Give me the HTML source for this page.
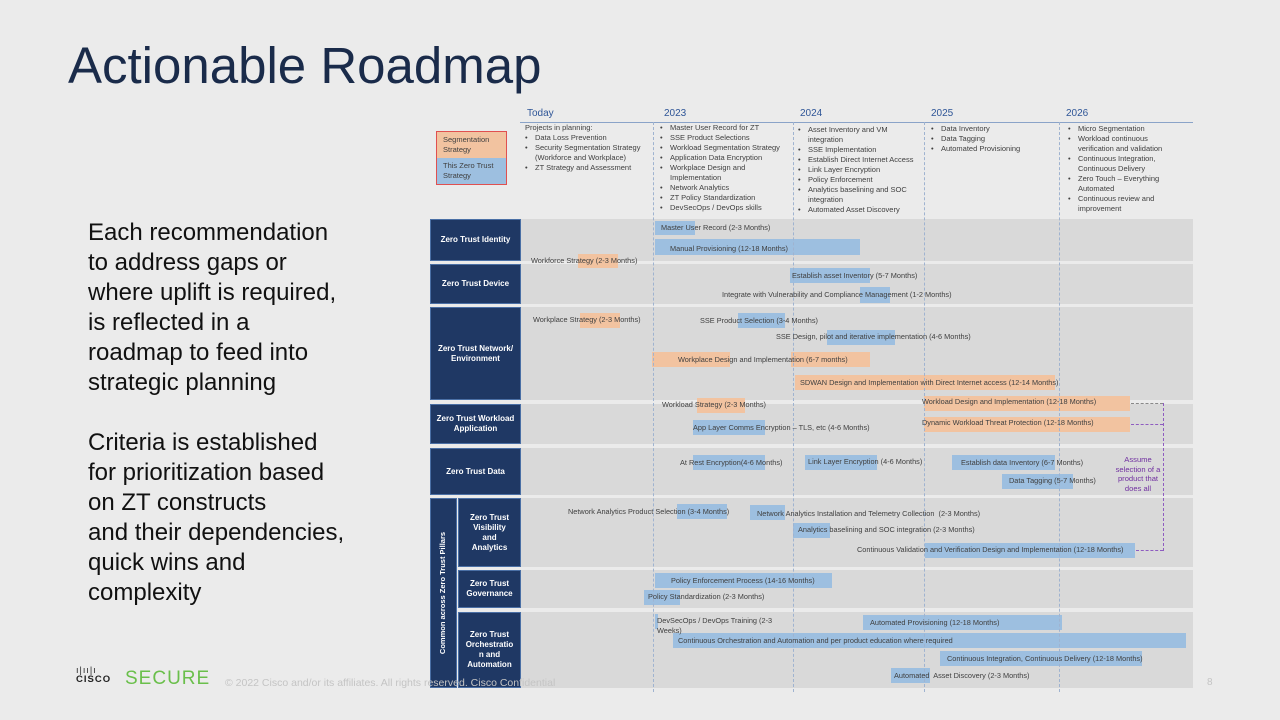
<!DOCTYPE html>
<html><head><meta charset="utf-8"><style>
*{margin:0;padding:0;box-sizing:border-box}
body{width:1280px;height:720px;background:#ebebeb;font-family:"Liberation Sans",sans-serif;position:relative;overflow:hidden}
.a{position:absolute;white-space:nowrap}
.t{position:absolute;white-space:nowrap;font-size:7.35px;color:#404040;line-height:10px}
.band{position:absolute;left:521px;width:672px;background:#d9d9d9}
.lab{position:absolute;background:#1f3864;color:#fff;font-size:8px;font-weight:bold;display:flex;align-items:center;justify-content:center;text-align:center;line-height:10px;border:1px solid #4a6fa5}
.o{position:absolute;background:#f2c3a0}
.b{position:absolute;background:#9dbfe0}
.v{position:absolute;top:122px;height:570px;border-left:1px dashed #9fb3d0}
.yr{position:absolute;top:108px;font-size:10px;color:#2e5597}
ul{list-style:none}
.hl{position:absolute;font-size:7.5px;color:#404040;line-height:10px}
.hl li{padding-left:10px;position:relative}
.hl li:before{content:"•";position:absolute;left:0}
.lt{position:absolute;left:88px;font-size:24px;color:#111;line-height:30px}
</style></head><body>
<div class="a" style="left:68px;top:36px;font-size:51px;color:#1a2b4a">Actionable Roadmap</div>

<div class="lt" style="top:218px">Each recommendation<br>to address gaps or<br>where uplift is required,<br>is reflected in a<br>roadmap to feed into<br>strategic planning</div>
<div class="lt" style="top:428px">Criteria is established<br>for prioritization based<br>on ZT constructs<br>and their dependencies,<br>quick wins and<br>complexity</div>

<!-- header -->
<div class="a" style="left:520px;top:122px;width:673px;border-top:1px solid #8aa3c8"></div>
<div class="yr" style="left:527px">Today</div>
<div class="yr" style="left:664px">2023</div>
<div class="yr" style="left:800px">2024</div>
<div class="yr" style="left:931px">2025</div>
<div class="yr" style="left:1066px">2026</div>

<div class="a" style="left:436px;top:131px;width:71px;height:54px;border:1px solid #e05050"></div>
<div class="a" style="left:437px;top:132px;width:69px;height:26px;background:#f2c3a0;font-size:7.5px;color:#404040;padding:3px 6px;line-height:10px;white-space:normal">Segmentation Strategy</div>
<div class="a" style="left:437px;top:158px;width:69px;height:26px;background:#9dbfe0;font-size:7.5px;color:#404040;padding:3px 6px;line-height:10px;white-space:normal">This Zero Trust Strategy</div>

<div class="hl" style="left:525px;top:123px">Projects in planning:<ul><li>Data Loss Prevention</li><li>Security Segmentation Strategy<br>(Workforce and Workplace)</li><li>ZT Strategy and Assessment</li></ul></div>
<div class="hl" style="left:660px;top:123px"><ul><li>Master User Record for ZT</li><li>SSE Product Selections</li><li>Workload Segmentation Strategy</li><li>Application Data Encryption</li><li>Workplace Design and<br>Implementation</li><li>Network Analytics</li><li>ZT Policy Standardization</li><li>DevSecOps / DevOps skills</li></ul></div>
<div class="hl" style="left:798px;top:125px"><ul><li>Asset Inventory and VM<br>integration</li><li>SSE Implementation</li><li>Establish Direct Internet Access</li><li>Link Layer Encryption</li><li>Policy Enforcement</li><li>Analytics baselining and SOC<br>integration</li><li>Automated Asset Discovery</li></ul></div>
<div class="hl" style="left:931px;top:124px"><ul><li>Data Inventory</li><li>Data Tagging</li><li>Automated Provisioning</li></ul></div>
<div class="hl" style="left:1068px;top:124px"><ul><li>Micro Segmentation</li><li>Workload continuous<br>verification and validation</li><li>Continuous Integration,<br>Continuous Delivery</li><li>Zero Touch – Everything<br>Automated</li><li>Continuous review and<br>improvement</li></ul></div>

<!-- bands -->
<div class="band" style="top:219px;height:42px"></div>
<div class="band" style="top:264px;height:40px"></div>
<div class="band" style="top:307px;height:93px"></div>
<div class="band" style="top:404px;height:40px"></div>
<div class="band" style="top:448px;height:47px"></div>
<div class="band" style="top:498px;height:69px"></div>
<div class="band" style="top:570px;height:38px"></div>
<div class="band" style="top:612px;height:76px"></div>

<div class="lab" style="left:430px;top:219px;width:91px;height:42px">Zero Trust Identity</div>
<div class="lab" style="left:430px;top:264px;width:91px;height:40px">Zero Trust Device</div>
<div class="lab" style="left:430px;top:307px;width:91px;height:93px">Zero Trust Network/<br>Environment</div>
<div class="lab" style="left:430px;top:404px;width:91px;height:40px">Zero Trust Workload<br>Application</div>
<div class="lab" style="left:430px;top:448px;width:91px;height:47px">Zero Trust Data</div>
<div class="lab" style="left:430px;top:498px;width:27px;height:190px"><span style="transform:rotate(-90deg);white-space:nowrap;font-size:7.5px">Common across Zero Trust Pillars</span></div>
<div class="lab" style="left:458px;top:498px;width:63px;height:69px">Zero Trust<br>Visibility<br>and<br>Analytics</div>
<div class="lab" style="left:458px;top:570px;width:63px;height:38px">Zero Trust<br>Governance</div>
<div class="lab" style="left:458px;top:612px;width:63px;height:76px">Zero Trust<br>Orchestratio<br>n and<br>Automation</div>

<!-- bars -->
<div class="b" style="left:655px;top:221px;width:40px;height:14px"></div>
<div class="b" style="left:655px;top:239px;width:205px;height:16px"></div>
<div class="o" style="left:578px;top:254px;width:40px;height:14px"></div>
<div class="b" style="left:790px;top:268px;width:80px;height:15px"></div>
<div class="b" style="left:860px;top:287px;width:30px;height:16px"></div>
<div class="o" style="left:580px;top:313px;width:40px;height:15px"></div>
<div class="b" style="left:738px;top:313px;width:47px;height:15px"></div>
<div class="b" style="left:827px;top:330px;width:68px;height:15px"></div>
<div class="o" style="left:652px;top:352px;width:78px;height:15px"></div>
<div class="o" style="left:791px;top:352px;width:79px;height:15px"></div>
<div class="o" style="left:795px;top:375px;width:260px;height:15px"></div>
<div class="o" style="left:697px;top:398px;width:48px;height:15px"></div>
<div class="o" style="left:924px;top:396px;width:206px;height:15px"></div>
<div class="b" style="left:693px;top:420px;width:72px;height:15px"></div>
<div class="o" style="left:924px;top:417px;width:206px;height:15px"></div>
<div class="b" style="left:693px;top:455px;width:72px;height:15px"></div>
<div class="b" style="left:805px;top:455px;width:72px;height:15px"></div>
<div class="b" style="left:952px;top:455px;width:103px;height:15px"></div>
<div class="b" style="left:1002px;top:474px;width:71px;height:15px"></div>
<div class="b" style="left:677px;top:504px;width:50px;height:15px"></div>
<div class="b" style="left:750px;top:505px;width:35px;height:15px"></div>
<div class="b" style="left:793px;top:523px;width:37px;height:15px"></div>
<div class="b" style="left:925px;top:543px;width:210px;height:15px"></div>
<div class="b" style="left:655px;top:573px;width:177px;height:15px"></div>
<div class="b" style="left:644px;top:590px;width:36px;height:15px"></div>
<div class="b" style="left:655px;top:614px;width:3px;height:15px"></div>
<div class="b" style="left:863px;top:615px;width:199px;height:15px"></div>
<div class="b" style="left:673px;top:633px;width:513px;height:15px"></div>
<div class="b" style="left:940px;top:651px;width:202px;height:15px"></div>
<div class="b" style="left:891px;top:668px;width:39px;height:15px"></div>

<!-- verticals -->
<div class="v" style="left:653px"></div>
<div class="v" style="left:793px"></div>
<div class="v" style="left:924px"></div>
<div class="v" style="left:1059px"></div>

<!-- bar labels -->
<div class="t" style="left:661px;top:223px">Master User Record (2-3 Months)</div>
<div class="t" style="left:670px;top:244px">Manual Provisioning (12-18 Months)</div>
<div class="t" style="left:531px;top:256px">Workforce Strategy (2-3 Months)</div>
<div class="t" style="left:792px;top:271px">Establish asset Inventory (5-7 Months)</div>
<div class="t" style="left:722px;top:290px">Integrate with Vulnerability and Compliance Management (1-2 Months)</div>
<div class="t" style="left:533px;top:315px">Workplace Strategy (2-3 Months)</div>
<div class="t" style="left:700px;top:316px">SSE Product Selection (3-4 Months)</div>
<div class="t" style="left:776px;top:332px">SSE Design, pilot and iterative implementation (4-6 Months)</div>
<div class="t" style="left:678px;top:355px">Workplace Design and Implementation (6-7 months)</div>
<div class="t" style="left:800px;top:378px">SDWAN Design and Implementation with Direct Internet access (12-14 Months)</div>
<div class="t" style="left:662px;top:400px">Workload Strategy (2-3 Months)</div>
<div class="t" style="left:922px;top:397px">Workload Design and Implementation (12-18 Months)</div>
<div class="t" style="left:693px;top:423px">App Layer Comms Encryption – TLS, etc (4-6 Months)</div>
<div class="t" style="left:922px;top:418px">Dynamic Workload Threat Protection (12-18 Months)</div>
<div class="t" style="left:680px;top:458px">At Rest Encryption(4-6 Months)</div>
<div class="t" style="left:808px;top:457px">Link Layer Encryption (4-6 Months)</div>
<div class="t" style="left:961px;top:458px">Establish data Inventory (6-7 Months)</div>
<div class="t" style="left:1009px;top:476px">Data Tagging (5-7 Months)</div>
<div class="t" style="left:568px;top:507px">Network Analytics Product Selection (3-4 Months)</div>
<div class="t" style="left:757px;top:509px">Network Analytics Installation and Telemetry Collection&nbsp; (2-3 Months)</div>
<div class="t" style="left:798px;top:525px">Analytics baselining and SOC integration (2-3 Months)</div>
<div class="t" style="left:857px;top:545px">Continuous Validation and Verification Design and Implementation (12-18 Months)</div>
<div class="t" style="left:671px;top:576px">Policy Enforcement Process (14-16 Months)</div>
<div class="t" style="left:648px;top:592px">Policy Standardization (2-3 Months)</div>
<div class="t" style="left:657px;top:616px">DevSecOps / DevOps Training (2-3<br>Weeks)</div>
<div class="t" style="left:870px;top:618px">Automated Provisioning (12-18 Months)</div>
<div class="t" style="left:678px;top:636px">Continuous Orchestration and Automation and per product education where required</div>
<div class="t" style="left:947px;top:654px">Continuous Integration, Continuous Delivery (12-18 Months)</div>
<div class="t" style="left:894px;top:671px">Automated&nbsp; Asset Discovery (2-3 Months)</div>

<!-- dashed connectors -->
<div class="a" style="left:1131px;top:403px;width:32px;border-top:1px dashed #888"></div>
<div class="a" style="left:1131px;top:424px;width:32px;border-top:1px dashed #8e5cc0"></div>
<div class="a" style="left:1163px;top:403px;height:148px;border-left:1px dashed #8e5cc0"></div>
<div class="a" style="left:1136px;top:550px;width:27px;border-top:1px dashed #8e5cc0"></div>
<div class="a" style="left:1113px;top:455px;width:50px;text-align:center;font-size:7.6px;color:#7030a0;line-height:9.5px;white-space:normal">Assume selection of a product that does all</div>

<!-- footer -->
<div class="a" style="left:76px;top:666px;font-size:9px;color:#222;letter-spacing:1px;line-height:9px">ı|ıı|ı<br><b style="font-size:9.5px">CISCO</b></div>
<div class="a" style="left:125px;top:668px;font-size:19px;color:#6abf4b;letter-spacing:1px">SECURE</div>
<div class="a" style="left:225px;top:677px;font-size:10.5px;color:#c4c4c4">© 2022 Cisco and/or its affiliates. All rights reserved. Cisco Confidential</div>
<div class="a" style="left:1207px;top:677px;font-size:10px;color:#c4c4c4">8</div>
</body></html>
